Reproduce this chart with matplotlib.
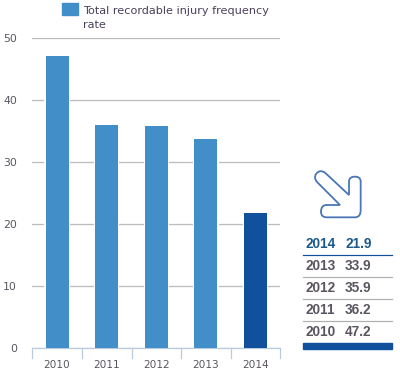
import matplotlib
matplotlib.use("Agg")
import matplotlib.pyplot as plt
from matplotlib.patches import PathPatch, Rectangle
from matplotlib.path import Path

YEARS = ["2010", "2011", "2012", "2013", "2014"]
BAR_RATES = [47.1, 36.0, 35.8, 33.7, 21.8]
TABLE_YEARS = ["2014", "2013", "2012", "2011", "2010"]
TABLE_RATES = ["21.9", "33.9", "35.9", "36.2", "47.2"]
Y_TICKS = [0, 10, 20, 30, 40, 50]
LEGEND_LABEL = "Total recordable injury frequency\nrate"

W, H = 400, 370
BLUE = "#418ec8"
DARK = "#11509c"
GREY = "#5a5560"
PX = 0.72  # one pixel as a line width

plt.rcParams["font.family"] = ["DejaVu Sans"]

fig = plt.figure(figsize=(W / 100, H / 100), dpi=100)

# main chart, placed in pixels
ax = fig.add_axes([32.3 / W, 1 - 348 / H, 248 / W, 310 / H])
colors = [BLUE] * 4 + [DARK]
ax.bar(range(5), BAR_RATES, width=0.51, color="white", zorder=2)
ax.bar(range(5), BAR_RATES, width=0.465, color=colors, zorder=3)
ax.set_xlim(-0.5, 4.5)
ax.set_ylim(0, 50)
ax.set_yticks(Y_TICKS)
ax.set_xticks(range(5))
ax.set_xticklabels(YEARS, fontsize=7.6, color=GREY)
ax.tick_params(axis="x", length=0, pad=9)
ax.tick_params(axis="y", length=0, pad=11, labelsize=7.8, labelcolor=GREY)
ax.grid(axis="y", color="#bcbcbc", linewidth=1.3 * PX)
for s in ["top", "right", "left"]:
    ax.spines[s].set_visible(False)
ax.spines["bottom"].set_color("#b8cbdc")
ax.spines["bottom"].set_linewidth(1.2 * PX)
for x in [-0.5, 0.5, 1.5, 2.5, 3.5, 4.5]:
    ax.plot([x, x], [0, -10 / 6.2], color="#b8cbdc", linewidth=1.2 * PX, clip_on=False, zorder=2)

# overlay in pixel coordinates for legend, arrow and table
ov = fig.add_axes([0, 0, 1, 1])
ov.set_xlim(0, W)
ov.set_ylim(H, 0)
ov.axis("off")
ov.patch.set_alpha(0)

ov.add_patch(Rectangle((62, 3), 16, 12, color=BLUE))
ov.text(83, 6.5, LEGEND_LABEL, fontsize=8.15, color="#4a3f5c", va="top", linespacing=1.5)


def zp(x, y):
    return (305 + x / 3, 160 + y / 3)


verts = [zp(*p) for p in [
    (60, 38), (132, 105), (132, 65), (132, 50), (150, 50), (167, 50), (167, 65),
    (167, 150), (167, 172), (150, 172), (65, 172), (48, 172), (48, 155), (48, 135),
    (65, 135), (105, 135), (38, 68), (25, 55), (33, 42), (44, 27), (60, 38),
]]
codes = [Path.MOVETO, Path.LINETO, Path.LINETO, Path.CURVE3, Path.CURVE3, Path.CURVE3, Path.CURVE3,
         Path.LINETO, Path.CURVE3, Path.CURVE3, Path.LINETO, Path.CURVE3, Path.CURVE3, Path.CURVE3,
         Path.CURVE3, Path.LINETO, Path.LINETO, Path.CURVE3, Path.CURVE3, Path.CURVE3, Path.CURVE3]
ov.add_patch(PathPatch(Path(verts, codes), facecolor="white", edgecolor="#4a76b8", linewidth=1.3))

# table on the right, newest year first
row_y = [244, 266, 288, 310, 332]
for i, (yr, val) in enumerate(zip(TABLE_YEARS, TABLE_RATES)):
    col = "#1c5a8c" if i == 0 else GREY
    ov.text(305, row_y[i], yr, fontsize=9.8, fontweight="bold", family="Liberation Sans", color=col, va="center")
    ov.text(345, row_y[i], val, fontsize=9.8, fontweight="bold", family="Liberation Sans", color=col, va="center")
    if i < 4:
        ov.plot([303, 392], [row_y[i] + 11] * 2, color=DARK if i == 0 else "#b0b0b0", linewidth=1.2 * PX)
ov.add_patch(Rectangle((303, 343), 89, 6, color=DARK))

fig.savefig("out.png", dpi=100)
plt.close(fig)
